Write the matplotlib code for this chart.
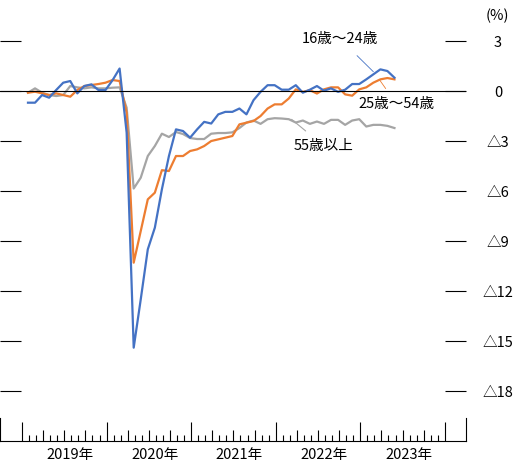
import numpy as np
import matplotlib
matplotlib.use('Agg')
import matplotlib.pyplot as plt

plt.rcParams['font.family'] = ['Noto Sans CJK JP', 'DejaVu Sans']

# monthly series, Jan 2019 .. May 2023 (%)
age16_24 = [-0.7, -0.7, -0.24, -0.4, 0.06, 0.5, 0.6, -0.14, 0.3, 0.4, 0.06, 0.06,
            0.65, 1.35, -2.5, -15.4, -12.5, -9.5, -8.2, -5.9, -3.9, -2.3, -2.4, -2.8,
            -2.3, -1.85, -1.95, -1.4, -1.25, -1.25, -1.05, -1.4, -0.55, -0.05, 0.35, 0.35,
            0.08, 0.08, 0.35, -0.1, 0.08, 0.3, 0.02, 0.16, -0.05, 0.08, 0.42, 0.42,
            0.7, 1.0, 1.3, 1.2, 0.8]
age25_54 = [-0.1, -0.04, -0.14, -0.24, -0.14, -0.24, -0.34, 0.06, 0.3, 0.36, 0.42, 0.5,
            0.66, 0.6, -1.3, -10.3, -8.4, -6.5, -6.1, -4.75, -4.8, -3.9, -3.9, -3.6,
            -3.5, -3.3, -3.0, -2.9, -2.8, -2.7, -2.0, -1.9, -1.8, -1.5, -1.05, -0.8,
            -0.8, -0.45, 0.1, -0.05, 0.05, -0.15, 0.1, 0.22, 0.22, -0.2, -0.28, 0.1,
            0.22, 0.5, 0.7, 0.78, 0.7]
age55 = [-0.1, 0.16, -0.1, -0.24, -0.3, -0.24, 0.3, 0.22, 0.16, 0.22, 0.16, 0.16,
         0.2, 0.22, -1.0, -5.85, -5.2, -3.9, -3.3, -2.56, -2.76, -2.46, -2.58, -2.82,
         -2.88, -2.88, -2.56, -2.52, -2.52, -2.48, -2.22, -1.89, -1.77, -1.97, -1.69, -1.63,
         -1.65, -1.69, -1.89, -1.77, -1.97, -1.83, -1.97, -1.73, -1.73, -2.03, -1.77, -1.69,
         -2.13, -2.03, -2.03, -2.09, -2.22]

years = ['2019年', '2020年', '2021年', '2022年', '2023年']
yvals = [3, 0, -3, -6, -9, -12, -15, -18]
ylabels = ['3', '0', '△3', '△6', '△9', '△12', '△15', '△18']

x = np.arange(len(age16_24))
off = -0.85  # year boundary relative to first point

fig = plt.figure(figsize=(5.27, 4.71), dpi=100)
ax = fig.add_axes([0, 30 / 471, 466 / 527, 433.3 / 471])

ax.plot(x, age55, color='#A5A5A5', lw=1.6)
ax.plot(x, age25_54, color='#ED7D31', lw=1.6)
ax.plot(x, age16_24, color='#4472C4', lw=1.6)
ax.axhline(0, color='black', lw=0.8)

ax.set_xlim(off - 3.12, off + 63.0)
ax.set_ylim(-21, 5)

ax.spines['top'].set_visible(False)
for s in ['left', 'right']:
    ax.spines[s].set_bounds(-21, -21 + 23 / 16.67)
    ax.spines[s].set_linewidth(0.8)
ax.spines['bottom'].set_linewidth(0.8)

ax.set_yticks(yvals)
ax.set_yticklabels(ylabels)
ax.tick_params(axis='y', direction='in', length=15, width=0.8, left=True, right=True,
               labelleft=False, labelright=True, pad=23, labelsize=10.5)
for lab in ax.get_yticklabels():
    lab.set_ha('center')

major = [off + 12 * k for k in range(6)]
quarter = [off + 12 * k + m for k in range(5) for m in (3, 6, 9)]
short = [off + 12 * k + m for k in range(5) for m in (1, 2, 4, 5, 7, 8, 10, 11)]
ax.set_xticks(major)
ax.set_xticks(quarter, minor=True)
ax.tick_params(axis='x', which='major', direction='in', length=13.5, width=0.8, labelbottom=False)
ax.tick_params(axis='x', which='minor', direction='in', length=7.9, width=0.8)

sec = ax.secondary_xaxis(0)
sec.set_xticks(short)
sec.tick_params(direction='in', length=4.3, width=0.8, labelbottom=False)
sec.spines['bottom'].set_visible(False)

sec2 = ax.secondary_xaxis(0)
sec2.set_xticks([6 + 12 * k for k in range(5)])
sec2.set_xticklabels(years)
sec2.tick_params(length=0, pad=5, labelsize=10.5)
sec2.spines['bottom'].set_visible(False)

fig.text(497 / 527, 1 - 16 / 471, '(%)', ha='center', va='center', fontsize=10.5)

ax.annotate('16歳〜24歳', xy=(49.0, 1.16), xytext=(44.3, 3.12), ha='center', va='center',
            fontsize=10.5, arrowprops=dict(arrowstyle='-', color='#4472C4', lw=0.6,
                                           shrinkA=7, shrinkB=0))
ax.annotate('25歳〜54歳', xy=(49.9, 0.66), xytext=(52.3, -0.78), ha='center', va='center',
            fontsize=10.5, arrowprops=dict(arrowstyle='-', color='#ED7D31', lw=0.6,
                                           shrinkA=5, shrinkB=0))
ax.annotate('55歳以上', xy=(37.4, -1.7), xytext=(42.0, -3.3), ha='center', va='center',
            fontsize=10.5, arrowprops=dict(arrowstyle='-', color='#A5A5A5', lw=0.8,
                                           shrinkA=6, shrinkB=0))

fig.savefig('out.png', dpi=100)
